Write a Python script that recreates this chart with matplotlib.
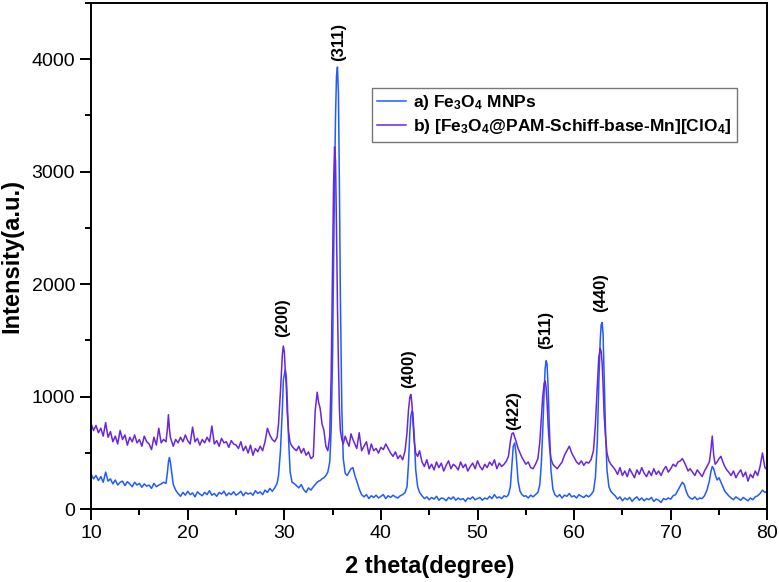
import matplotlib
matplotlib.use('Agg')
import matplotlib.pyplot as plt
from matplotlib.ticker import MultipleLocator

plt.rcParams['font.family'] = ['Liberation Sans', 'DejaVu Sans']
plt.rcParams['mathtext.fontset'] = 'custom'
plt.rcParams['mathtext.rm'] = 'Liberation Sans:bold'
plt.rcParams['mathtext.default'] = 'rm'

# 2 theta grid (finer near peaks)
two_theta = [
    # 10 - 17.5
    10.0, 10.25, 10.5, 10.75, 11.0, 11.25, 11.5, 11.75, 12.0, 12.25, 12.5, 12.75, 13.0, 13.25, 13.5,
    13.75, 14.0, 14.25, 14.5, 14.75, 15.0, 15.25, 15.5, 15.75, 16.0, 16.25, 16.5, 16.75, 17.0, 17.25, 17.5,
    # ~18
    17.75, 17.9, 18.0, 18.1, 18.2, 18.35, 18.5, 18.75,
    # 19 - 29.25
    19.0, 19.25, 19.5, 19.75, 20.0, 20.25, 20.5, 20.75, 21.0, 21.25, 21.5, 21.75, 22.0, 22.25, 22.5,
    22.75, 23.0, 23.25, 23.5, 23.75, 24.0, 24.25, 24.5, 24.75, 25.0, 25.25, 25.5, 25.75, 26.0, 26.25,
    26.5, 26.75, 27.0, 27.25, 27.5, 27.75, 28.0, 28.25, 28.5, 28.75, 29.0, 29.25,
    # (200)
    29.4, 29.6, 29.8, 29.9, 30.0, 30.1, 30.2, 30.3, 30.45, 30.6, 30.8, 31.0,
    31.25, 31.5, 31.75, 32.0, 32.25, 32.5, 32.75, 33.0,
    # (311)
    33.2, 33.4, 33.55, 33.7, 33.9, 34.1, 34.3, 34.5, 34.7, 34.85, 35.0, 35.1, 35.2, 35.3, 35.4,
    35.5, 35.6, 35.7, 35.8, 35.95, 36.1, 36.3, 36.5, 36.7, 36.9, 37.1, 37.3, 37.5, 37.75, 38.0,
    38.25, 38.5, 38.75, 39.0, 39.25, 39.5, 39.75, 40.0, 40.25, 40.5, 40.75, 41.0, 41.25, 41.5, 41.75,
    42.0, 42.25, 42.5,
    # (400)
    42.7, 42.85, 43.0, 43.1, 43.2, 43.3, 43.45, 43.6, 43.8, 44.0,
    44.25, 44.5, 44.75, 45.0, 45.25, 45.5, 45.75, 46.0, 46.25, 46.5, 46.75, 47.0, 47.25, 47.5, 47.75,
    48.0, 48.25, 48.5, 48.75, 49.0, 49.25, 49.5, 49.75, 50.0, 50.25, 50.5, 50.75, 51.0, 51.25, 51.5,
    51.75, 52.0, 52.25, 52.5, 52.75, 53.0,
    # (422)
    53.2, 53.4, 53.55, 53.7, 53.85, 54.0, 54.2, 54.4, 54.6, 54.8, 55.0,
    55.25, 55.5, 55.75, 56.0, 56.25,
    # (511)
    56.45, 56.6, 56.75, 56.9, 57.0, 57.1, 57.2, 57.3, 57.45, 57.6, 57.8, 58.0,
    58.25, 58.5, 58.75, 59.0, 59.25, 59.5, 59.75, 60.0, 60.25, 60.5, 60.75, 61.0, 61.25, 61.5, 61.75,
    # (440)
    62.0, 62.2, 62.4, 62.55, 62.7, 62.8, 62.9, 63.0, 63.1, 63.25, 63.4, 63.6, 63.8, 64.0,
    64.25, 64.5, 64.75, 65.0, 65.25, 65.5, 65.75, 66.0, 66.25, 66.5, 66.75, 67.0, 67.25, 67.5, 67.75,
    68.0, 68.25, 68.5, 68.75, 69.0, 69.25, 69.5, 69.75, 70.0, 70.25, 70.5, 70.75,
    71.0, 71.2, 71.4, 71.6, 71.8, 72.0,
    72.25, 72.5, 72.75, 73.0, 73.25, 73.5, 73.75,
    74.0, 74.15, 74.3, 74.45, 74.6, 74.8, 75.0, 75.2, 75.4, 75.6, 75.8, 76.0,
    76.25, 76.5, 76.75, 77.0, 77.25, 77.5, 77.75, 78.0, 78.25, 78.5, 78.75, 79.0, 79.25, 79.5, 79.75, 80.0,
]

# a) Fe3O4 MNPs
int_fe3o4 = [
    310, 270, 300, 255, 290, 240, 330, 250, 270, 225, 260, 215, 240, 250, 210,
    245, 225, 200, 240, 215, 230, 195, 225, 205, 215, 185, 230, 200, 215, 225, 240,
    230, 330, 420, 460, 420, 320, 220, 170,
    140, 115, 150, 125, 160, 130, 145, 110, 155, 135, 120, 150, 130, 165, 125,
    140, 115, 150, 135, 160, 120, 145, 130, 155, 125, 140, 160, 120, 150, 135,
    145, 125, 165, 140, 155, 130, 170, 150, 185, 160, 190, 230,
    300, 520, 900, 1150, 1200, 1240, 1180, 980, 600, 330, 240, 230,
    210, 190, 220, 175, 150, 190, 170, 200,
    220, 240, 250, 255, 270, 280, 300, 330, 420, 700, 1400, 2200, 2900, 3500, 3850,
    3930, 3700, 2900, 1900, 900, 450, 320, 300, 330, 360, 370, 300, 250, 180, 130,
    110, 130, 95, 120, 105, 125, 100, 115, 130, 95, 120, 105, 125, 110, 100,
    120, 130, 150,
    200, 400, 700, 830, 870, 860, 650, 350, 200, 150,
    120, 95, 110, 85, 105, 90, 115, 80, 100, 95, 75, 105, 90, 110, 80,
    100, 85, 95, 70, 100, 90, 110, 85, 95, 105, 80, 100, 90, 115, 95,
    130, 100, 110, 95, 120, 110,
    130, 200, 380, 560, 590, 480, 250, 160, 130, 115, 120,
    100, 125, 110, 130, 150,
    220, 400, 700, 1050, 1250, 1320, 1290, 1100, 700, 350, 180, 130,
    110, 130, 100, 125, 115, 140, 110, 120, 100, 130, 115, 105, 125, 110, 130,
    160, 280, 600, 1100, 1500, 1640, 1660, 1550, 1200, 700, 350, 200, 160, 140,
    120, 90, 110, 75, 100, 85, 105, 70, 95, 110, 80, 100, 75, 95, 85,
    105, 70, 90, 80, 60, 95, 85, 100, 90, 120, 130, 170,
    210, 240, 220, 160, 120, 100,
    90, 110, 85, 100, 95, 120, 170,
    250, 330, 380, 360, 310, 260, 280, 240, 200, 160, 140, 120,
    100, 85, 110, 95, 80, 105, 90, 75, 100, 85, 110, 120, 140, 170, 150, 160,
]

# b) [Fe3O4@PAM-Schiff-base-Mn][ClO4]
int_complex = [
    760, 700, 745, 680, 720, 650, 770, 640, 690, 600, 650, 580, 700, 620, 660,
    570, 640, 600, 660, 590, 620, 560, 650, 600, 580, 530, 640, 570, 720, 590, 620,
    600, 720, 840, 720, 640, 600, 560, 620,
    590, 640, 600, 660, 610, 580, 730, 600, 630, 570, 620, 590, 640, 600, 740,
    580, 610, 560, 630, 590, 600, 550, 610, 580, 570, 540, 600, 520, 560, 500,
    570, 480, 540, 510, 560, 520, 600, 720, 660, 620, 600, 640,
    760, 1050, 1380, 1450, 1400, 1230, 1100, 860, 680, 590, 560, 540,
    520, 560, 500, 540, 480, 510, 450, 470,
    880, 1040, 950, 900, 760, 700, 560, 520, 650, 1200, 2200, 2900, 3220, 3100, 2500,
    1800, 1300, 900, 700, 620, 580, 650, 600, 560, 670, 620, 580, 540, 680, 520,
    560, 600, 490, 580, 520, 540, 500, 550, 530, 580, 540, 500, 470, 510, 450,
    480, 440, 520,
    680, 880, 1000, 1020, 950, 800, 600, 500, 470, 520,
    420, 380, 440, 360, 400, 350, 420, 370, 410, 340, 390, 430, 360, 400, 380,
    350, 420, 370, 400, 340, 380, 410, 360, 430, 380, 350, 400, 370, 420, 390,
    440, 360, 410, 380, 400, 430,
    470, 600, 670, 680, 640, 600, 540, 500, 460, 430, 400,
    420, 370, 360, 400, 450,
    600, 800, 1000, 1120, 1140, 1080, 950, 760, 560, 450, 400, 380,
    360, 390, 420, 480, 520, 560, 500, 460, 420, 400, 430, 390, 420, 410, 440,
    520, 750, 1100, 1350, 1430, 1400, 1300, 1100, 850, 650, 500, 430, 400, 380,
    350, 310, 370, 300, 340, 290, 360, 320, 280, 350, 310, 370, 320, 290, 340,
    300, 360, 310, 340, 300, 350, 380, 330, 360, 400, 380, 420,
    430, 450, 420, 380, 340, 360,
    330, 300, 350, 320, 290, 340, 380,
    420, 520, 650, 480, 400, 420, 450, 470, 420, 380, 350, 330,
    300, 340, 280, 320, 350, 290, 330, 250, 310, 280, 340, 300, 380, 500, 370, 350,
]

# reflection labels: (text, 2theta, intensity at label centre)
peak_labels = ['(200)', '(311)', '(400)', '(422)', '(511)', '(440)']
peak_pos = [29.8, 35.6, 42.9, 53.7, 57.0, 62.7]
peak_height = [1700, 4150, 1250, 880, 1590, 1930]

fig = plt.figure(figsize=(7.79, 5.82), dpi=100)
ax = fig.add_axes([0.117, 0.125, 0.868, 0.870])

ax.plot(two_theta, int_fe3o4, color='#1f5bff', lw=1.1, label='a) Fe$_3$O$_4$ MNPs')
ax.plot(two_theta, int_complex, color='#6a25dd', lw=1.1,
        label='b) [Fe$_3$O$_4$@PAM-Schiff-base-Mn][ClO$_4$]')

for txt, xx, yy in zip(peak_labels, peak_pos, peak_height):
    ax.text(xx, yy, txt, rotation=90, ha='center', va='center', fontsize=12, fontweight='bold')

ax.set_xlim(10, 80)
ax.set_ylim(0, 4500)
ax.xaxis.set_major_locator(MultipleLocator(10))
ax.xaxis.set_minor_locator(MultipleLocator(5))
ax.yaxis.set_major_locator(MultipleLocator(1000))
ax.yaxis.set_minor_locator(MultipleLocator(500))
ax.tick_params(which='both', direction='out', top=False, right=False, labelsize=14, width=1.4)
ax.tick_params(which='major', length=8)
ax.tick_params(which='minor', length=4)
for sp in ax.spines.values():
    sp.set_linewidth(1.4)

ax.set_xlabel('2 theta(degree)', fontsize=17, fontweight='bold', labelpad=9)
ax.set_ylabel('Intensity(a.u.)', fontsize=17, fontweight='bold', labelpad=6)

leg = ax.legend(loc='upper left', bbox_to_anchor=(0.415, 0.832), fontsize=12.5, frameon=True,
                fancybox=False, edgecolor='#555555', handlelength=1.7, borderpad=0.3,
                labelspacing=0.3, handletextpad=0.4, borderaxespad=0)
leg.get_frame().set_linewidth(1.0)
for t in leg.get_texts():
    t.set_fontweight('bold')

fig.savefig('out.png', dpi=100)
